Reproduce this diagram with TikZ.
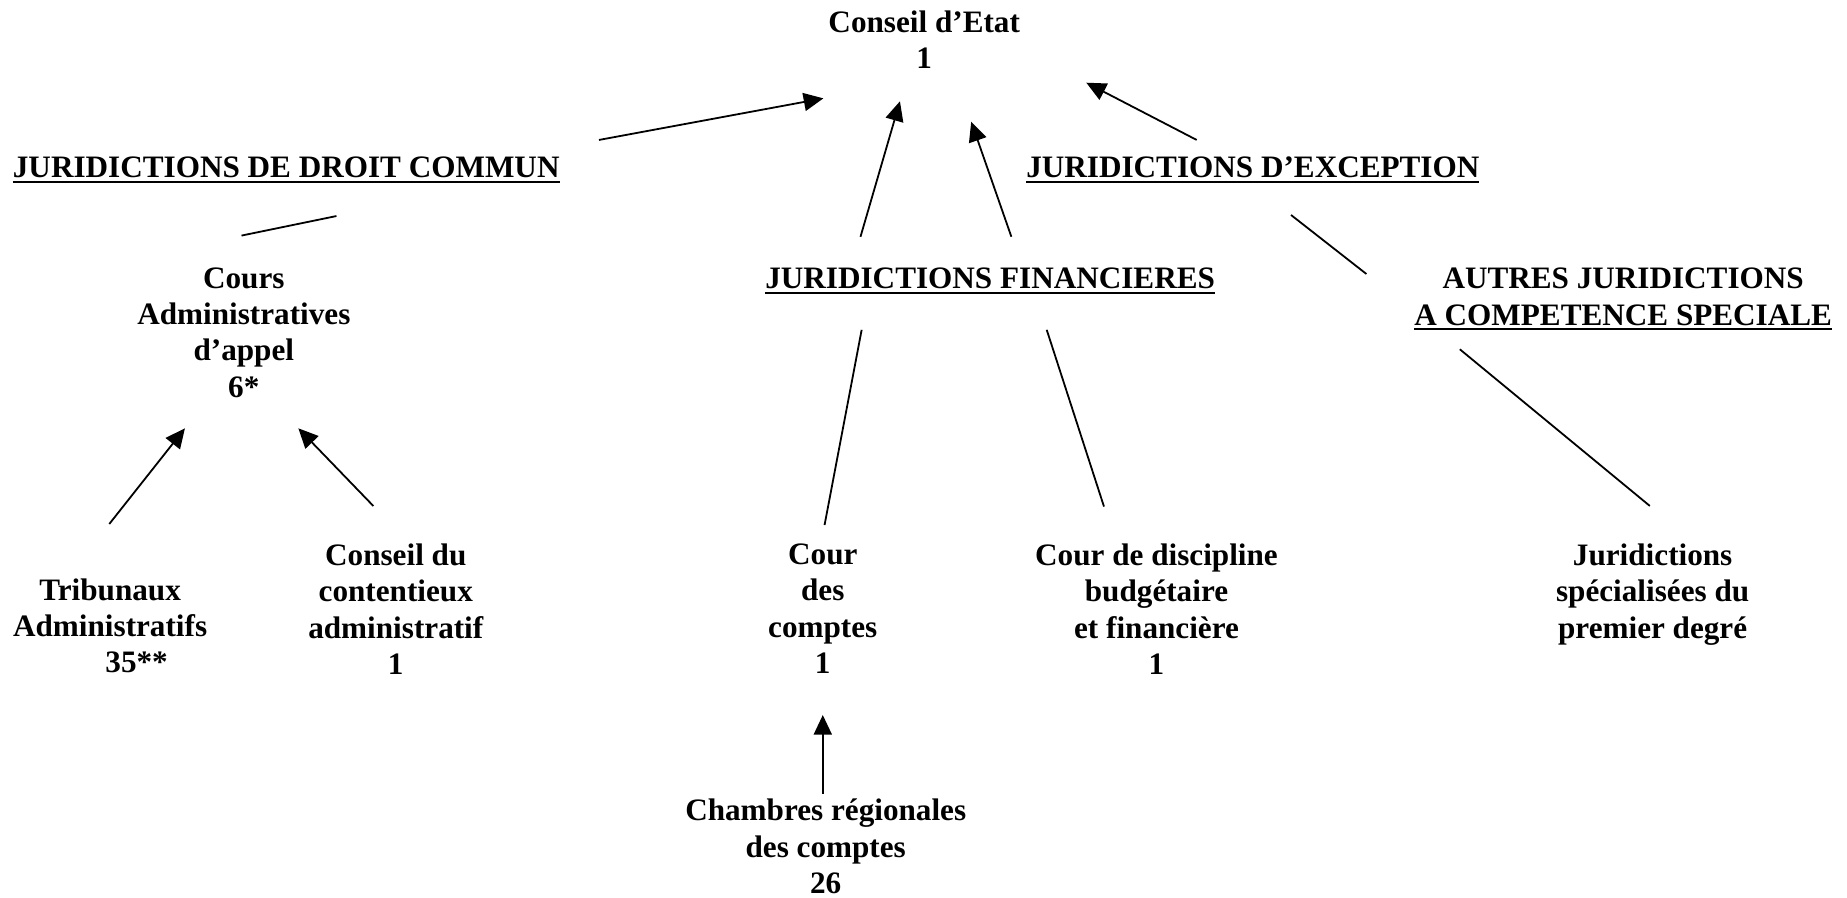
\documentclass[tikz,border=0pt]{standalone}
\usepackage{fontspec}
\setmainfont{Liberation Serif}
\usetikzlibrary{arrows.meta}

\newsavebox{\ulbox}
\newcommand{\souligne}[1]{\sbox{\ulbox}{#1}\rlap{\rule[-3.8pt]{\wd\ulbox}{1.6pt}}\usebox{\ulbox}}

\tikzset{
  lbl/.style={align=center, inner sep=0pt, outer sep=0pt, anchor=north, font=\fontsize{22.6}{26.4}\selectfont\bfseries},
  lien/.style={line width=1.3pt},
  fleche/.style={lien, -{Triangle[length=0.5cm,width=0.46cm]}}
}

\begin{document}
\begin{tikzpicture}[x=0.3mm,y=-0.3mm]
                \useasboundingbox (0,0) rectangle (1568,762);

                \node[lbl] (ce) at (784.6,9) {Conseil d’Etat\\1};
                \node[lbl] (dc) at (243,133.4) {\souligne{JURIDICTIONS DE DROIT COMMUN}};
                \node[lbl] (ex) at (1063.6,133.4) {\souligne{JURIDICTIONS D’EXCEPTION}};
                \node[lbl] (fi) at (840.6,227.5) {\souligne{JURIDICTIONS FINANCIERES}};
                \node[lbl] (au) at (1378,227.5) {AUTRES JURIDICTIONS\\\souligne{A COMPETENCE SPECIALE}};

                \node[lbl] (ca) at (207,227) {Cours\\Administratives\\d’appel\\6*};
                \node[lbl] (ta) at (93.5,491) {Tribunaux\\Administratifs\\\hspace*{1.7em}35**};
                \node[lbl] (cc) at (336,461.6) {Conseil du\\contentieux\\administratif\\1};
                \node[lbl] (co) at (698.5,461.6) {Cour\\des\\comptes\\1};
                \node[lbl] (cd) at (981.8,461.6) {Cour de discipline\\budgétaire\\et financière\\1};
                \node[lbl] (js) at (1403,461.6) {Juridictions\\spécialisées du\\premier degré};
                \node[lbl] (cr) at (701,678.5) {Chambres régionales\\des comptes\\26};

                % vers le Conseil d'Etat
                \draw[fleche] ([shift={(265.5,-14.6)}]dc.north) -- ([shift={(-85.6,74.5)}]ce.north);
                \draw[fleche] ([shift={(-110.1,-26.5)}]fi.north) -- ([shift={(-20.6,77)}]ce.north);
                \draw[fleche] ([shift={(18,-26.5)}]fi.north) -- ([shift={(39.9,94.3)}]ce.north);
                \draw[fleche] ([shift={(-47.7,-14.6)}]ex.north) -- ([shift={(137.6,61.2)}]ce.north);

                % rattachements
                \draw[lien] ([shift={(42.6,50)}]dc.north) -- ([shift={(-2,-27)}]ca.north);
                \draw[lien] ([shift={(32.4,49.1)}]ex.north) -- ([shift={(-218,5.1)}]au.north);
                \draw[lien] ([shift={(-109.1,52.5)}]fi.north) -- ([shift={(1.5,-15.9)}]co.north);
                \draw[lien] ([shift={(48,52.5)}]fi.north) -- ([shift={(-44.6,-31.6)}]cd.north);
                \draw[lien] ([shift={(-138.7,69)}]au.north) -- ([shift={(-2.4,-32.1)}]js.north);

                % appels
                \draw[fleche] ([shift={(-0.7,-46.2)}]ta.north) -- ([shift={(-50,136.6)}]ca.north);
                \draw[fleche] ([shift={(-19,-32)}]cc.north) -- ([shift={(46.3,136.6)}]ca.north);
                \draw[fleche] ([shift={(-2.5,-4.5)}]cr.north) -- ([shift={(0,145.4)}]co.north);
\end{tikzpicture}
\end{document}
